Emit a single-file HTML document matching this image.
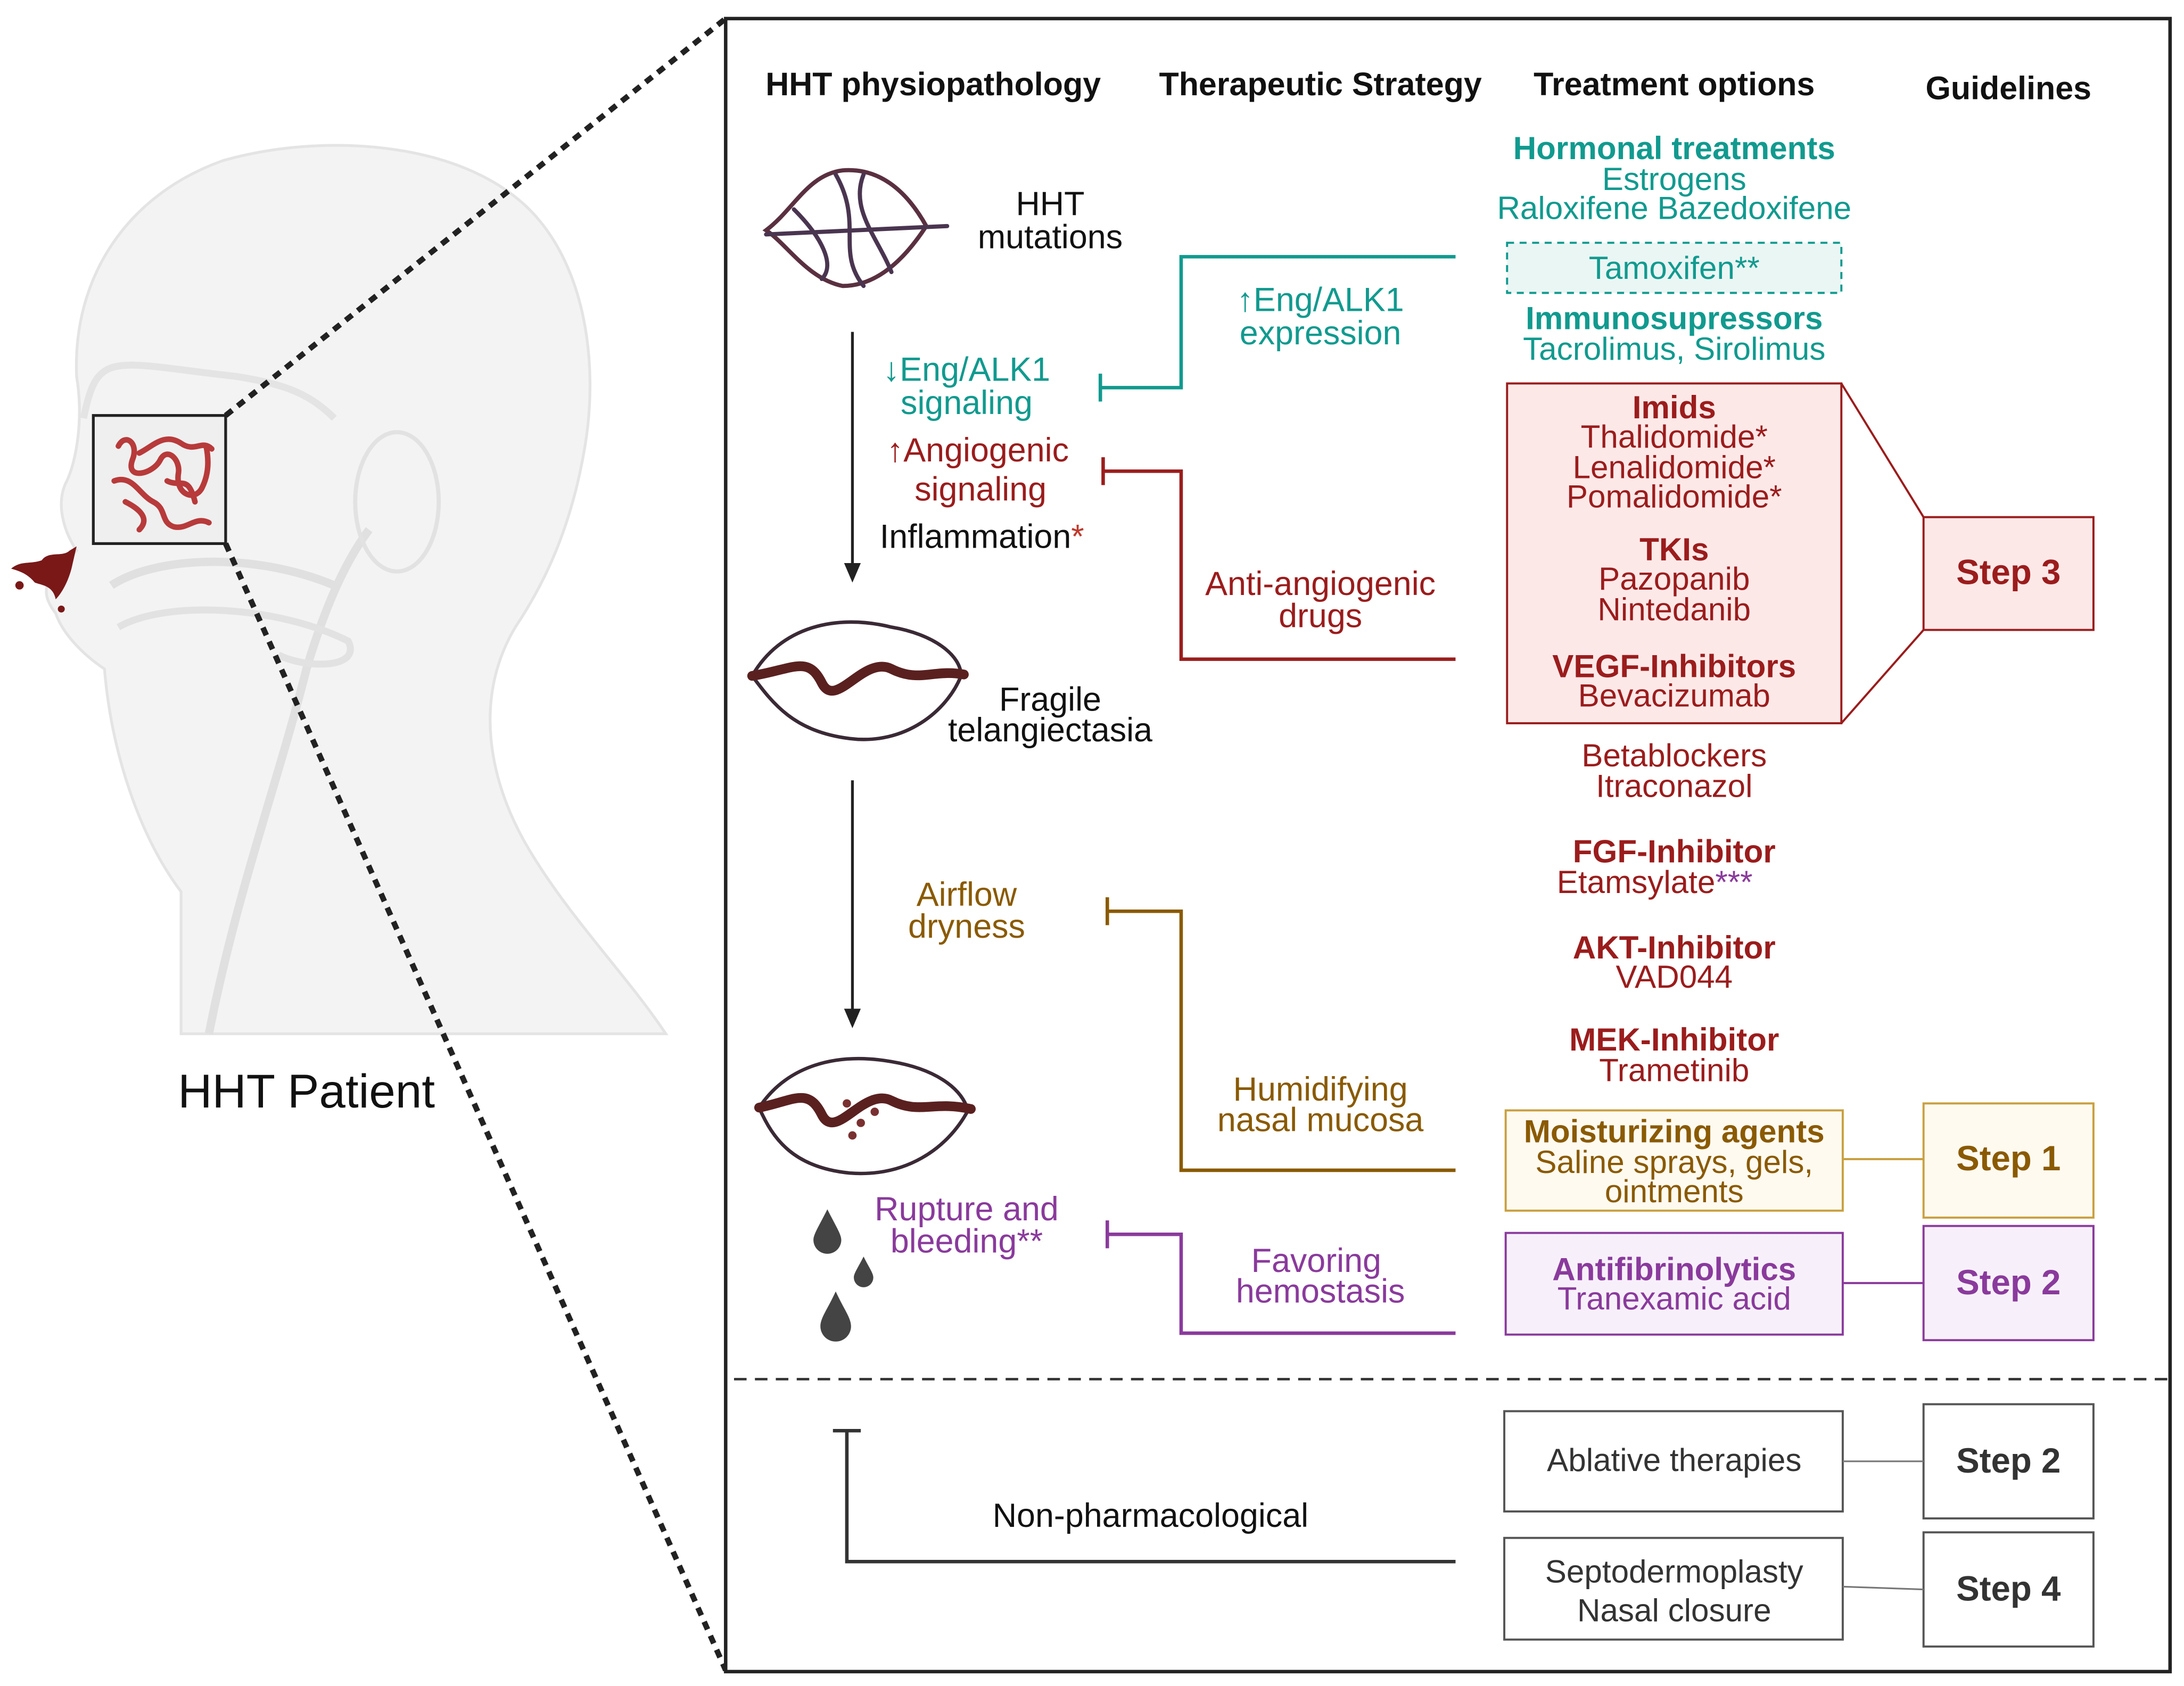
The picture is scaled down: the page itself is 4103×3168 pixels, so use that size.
<!DOCTYPE html>
<html><head><meta charset="utf-8"><style>
html,body{margin:0;padding:0;background:#fff}
svg{display:block}
text{font-family:"Liberation Sans",Arial,sans-serif}
</style></head><body>
<svg width="4103" height="3168" viewBox="0 0 1568 1210" xmlns="http://www.w3.org/2000/svg">
<rect width="1568" height="1210" fill="#fff"/>
<path d="M130,742 L130,640 C100,600 80,540 75,480 C60,470 45,455 40,440 C32,430 30,420 40,410 L55,395 C45,380 40,360 48,345 C55,330 60,300 55,270 C52,200 90,140 160,115 C230,95 330,100 380,150 C420,190 430,260 420,320 C410,380 390,420 370,450 C340,500 350,560 380,610 C410,660 450,700 478,742 Z" fill="#f3f3f3" stroke="#e4e4e4" stroke-width="2"/>
<path d="M150,742 C170,640 200,560 220,480 C235,430 250,400 265,380" fill="none" stroke="#e0e0e0" stroke-width="6"/>
<path d="M80,420 C110,400 180,395 240,420" fill="none" stroke="#e0e0e0" stroke-width="6"/>
<path d="M85,450 C120,430 200,435 250,460 C260,480 220,480 200,470" fill="none" stroke="#e2e2e2" stroke-width="5"/>
<ellipse cx="285" cy="360" rx="30" ry="50" fill="none" stroke="#e2e2e2" stroke-width="3"/>
<path d="M60,300 C70,250 80,260 170,270 C200,275 220,280 240,300" fill="none" stroke="#e4e4e4" stroke-width="5"/>
<rect x="67" y="298" width="95" height="92" fill="#ececec" fill-opacity="0.6" stroke="#222" stroke-width="2"/>
<g fill="none" stroke="#b83a3a" stroke-width="4" stroke-linecap="round">
<path d="M85,320 C90,310 100,318 95,330 C90,345 110,340 115,330 C120,320 130,330 128,340 C126,355 140,360 145,350 C150,340 150,330 148,320"/>
<path d="M82,345 C95,340 100,355 110,360 C120,365 115,375 125,378 C135,380 140,370 150,375"/>
<path d="M100,325 C110,320 118,310 130,318 C140,325 145,315 152,322"/>
<path d="M90,360 C100,365 108,372 100,380"/>
<path d="M120,345 C130,350 135,340 140,360"/>
</g>
<path d="M30,402 C35,395 45,400 50,395 L55,392 L52,405 C50,415 45,425 40,430 C38,420 30,420 25,418 C20,412 15,410 8,408 C15,402 22,405 30,402 Z" fill="#7a1818"/>
<circle cx="14" cy="420" r="3" fill="#7a1818"/><circle cx="44" cy="437" r="2.5" fill="#7a1818"/>
<line x1="162" y1="298" x2="521" y2="13" stroke="#222" stroke-width="4" stroke-dasharray="6,5"/>
<line x1="162" y1="390" x2="521" y2="1199" stroke="#222" stroke-width="4" stroke-dasharray="6,5"/>
<text x="220" y="795" font-size="34" text-anchor="middle" fill="#111">HHT Patient</text>
<rect x="521" y="13" width="1037" height="1187" fill="#fff" stroke="#222" stroke-width="2.5"/>
<g font-weight="bold" font-size="23.3" fill="#111" text-anchor="middle">
<text x="670" y="68">HHT physiopathology</text>
<text x="948" y="68">Therapeutic Strategy</text>
<text x="1202" y="68">Treatment options</text>
<text x="1442" y="71">Guidelines</text>
</g>
<g fill="none" stroke-width="3" stroke-linecap="round">
<path d="M550,165 C570,150 580,125 605,122 C630,120 650,135 665,162 C650,185 630,205 605,205 C580,200 565,175 550,165 Z" stroke="#5a3040"/>
<path d="M550,168 L680,162 M570,150 C590,170 600,190 590,200 M620,125 C610,150 630,170 640,195 M600,125 C620,160 600,180 620,205" stroke="#4a3550"/>
<path d="M540,485 C560,450 600,440 640,450 C670,455 690,470 690,485 C680,510 650,535 610,530 C570,525 555,505 540,485 Z" stroke="#3a2a35" stroke-width="2.5"/>
<path d="M540,485 C570,480 580,470 590,490 C600,510 620,470 640,480 C660,490 670,480 692,484" stroke="#5a2020" stroke-width="7"/>
<path d="M545,795 C565,765 600,755 640,762 C670,767 690,780 695,797 C680,825 650,845 610,842 C570,838 555,818 545,795 Z" stroke="#3a2a35" stroke-width="2.5"/>
<path d="M545,795 C570,790 580,780 590,800 C600,820 620,780 640,790 C660,800 670,790 697,796" stroke="#5a2020" stroke-width="7"/>
</g>
<g fill="#7a3030"><circle cx="608" cy="792" r="3"/><circle cx="618" cy="806" r="3"/><circle cx="628" cy="798" r="3"/><circle cx="612" cy="815" r="3"/></g>
<text x="754" y="154" font-size="24" text-anchor="middle" fill="#111">HHT</text>
<text x="754" y="178" font-size="24" text-anchor="middle" fill="#111">mutations</text>
<text x="754" y="510" font-size="24" text-anchor="middle" fill="#111">Fragile</text>
<text x="754" y="532" font-size="24" text-anchor="middle" fill="#111">telangiectasia</text>
<line x1="612" y1="238" x2="612" y2="406" stroke="#222" stroke-width="2"/>
<path d="M606,404 L612,418 L618,404 Z" fill="#222"/>
<line x1="612" y1="560" x2="612" y2="726" stroke="#222" stroke-width="2"/>
<path d="M606,724 L612,738 L618,724 Z" fill="#222"/>
<g font-size="24" text-anchor="middle">
<text x="694" y="273" fill="#119a8f">↓Eng/ALK1</text>
<text x="694" y="297" fill="#119a8f">signaling</text>
<text x="702" y="331" fill="#9b1c1c">↑Angiogenic</text>
<text x="704" y="359" fill="#9b1c1c">signaling</text>
<text x="705" y="393" fill="#111">Inflammation<tspan fill="#c0392b">*</tspan></text>
<text x="694" y="650" fill="#8a5a00">Airflow</text>
<text x="694" y="673" fill="#8a5a00">dryness</text>
<text x="694" y="876" fill="#8a3a9c">Rupture and</text>
<text x="694" y="899" fill="#8a3a9c">bleeding**</text>
<text x="948" y="223" fill="#119a8f">↑Eng/ALK1</text>
<text x="948" y="247" fill="#119a8f">expression</text>
<text x="948" y="427" fill="#9b1c1c">Anti-angiogenic</text>
<text x="948" y="450" fill="#9b1c1c">drugs</text>
<text x="948" y="790" fill="#8a5a00">Humidifying</text>
<text x="948" y="812" fill="#8a5a00">nasal mucosa</text>
<text x="945" y="913" fill="#8a3a9c">Favoring</text>
<text x="948" y="935" fill="#8a3a9c">hemostasis</text>
<text x="826" y="1096" fill="#111">Non-pharmacological</text>
</g>
<g fill="#444">
<path d="M594,868 C600,880 604,886 604,890 A10,10 0 0 1 584,890 C584,886 588,880 594,868 Z"/>
<path d="M620,902 C624,910 627,914 627,917 A7,7 0 0 1 613,917 C613,914 616,910 620,902 Z"/>
<path d="M600,927 C606,940 611,946 611,952 A11,11 0 0 1 589,952 C589,946 594,940 600,927 Z"/>
</g>
<g fill="none" stroke-width="2.5">
<path d="M1045,184 H848 V278 H790 M790,268 V288" stroke="#119a8f"/>
<path d="M1045,473 H848 V338 H792 M792,328 V348" stroke="#9b1c1c"/>
<path d="M1045,840 H848 V654 H795 M795,644 V664" stroke="#8a5a00"/>
<path d="M1045,957 H848 V886 H795 M795,876 V896" stroke="#8a3a9c"/>
<path d="M1045,1121 H608 V1027 M598,1027 H618" stroke="#333"/>
</g>
<line x1="527" y1="990" x2="1558" y2="990" stroke="#333" stroke-width="1.8" stroke-dasharray="9,6"/>
<rect x="1082" y="174" width="240" height="36" fill="#eaf6f4" stroke="#119a8f" stroke-width="1.5" stroke-dasharray="5,4"/>
<rect x="1082" y="275" width="240" height="244" fill="#fde8e8" stroke="#9b1c1c" stroke-width="1.5"/>
<rect x="1381" y="371" width="122" height="81" fill="#fde8e8" stroke="#9b1c1c" stroke-width="1.5"/>
<path d="M1322,275 L1381,371 M1322,519 L1381,452" stroke="#9b1c1c" stroke-width="1.5"/>
<rect x="1081" y="797" width="242" height="72" fill="#fffaf0" stroke="#c9a040" stroke-width="1.5"/>
<rect x="1381" y="792" width="122" height="82" fill="#fffaf0" stroke="#c9a040" stroke-width="1.5"/>
<line x1="1323" y1="832" x2="1381" y2="832" stroke="#c9a040" stroke-width="1.5"/>
<rect x="1081" y="885" width="242" height="73" fill="#f7f0fa" stroke="#8a3a9c" stroke-width="1.5"/>
<rect x="1381" y="880" width="122" height="82" fill="#f7f0fa" stroke="#8a3a9c" stroke-width="1.5"/>
<line x1="1323" y1="921" x2="1381" y2="921" stroke="#8a3a9c" stroke-width="1.5"/>
<rect x="1080" y="1013" width="243" height="72" fill="#fff" stroke="#555" stroke-width="1.5"/>
<rect x="1381" y="1008" width="122" height="82" fill="#fff" stroke="#555" stroke-width="1.5"/>
<line x1="1323" y1="1049" x2="1381" y2="1049" stroke="#777" stroke-width="1.2"/>
<rect x="1080" y="1104" width="243" height="73" fill="#fff" stroke="#555" stroke-width="1.5"/>
<rect x="1381" y="1100" width="122" height="82" fill="#fff" stroke="#555" stroke-width="1.5"/>
<line x1="1323" y1="1139" x2="1381" y2="1141" stroke="#777" stroke-width="1.2"/>
<g font-size="23" text-anchor="middle">
<g fill="#119a8f">
<text x="1202" y="114" font-weight="bold">Hormonal treatments</text>
<text x="1202" y="136">Estrogens</text>
<text x="1202" y="157">Raloxifene Bazedoxifene</text>
<text x="1202" y="200">Tamoxifen**</text>
<text x="1202" y="236" font-weight="bold">Immunosupressors</text>
<text x="1202" y="258">Tacrolimus, Sirolimus</text>
</g>
<g fill="#9b1c1c">
<text x="1202" y="300" font-weight="bold">Imids</text>
<text x="1202" y="321">Thalidomide*</text>
<text x="1202" y="343">Lenalidomide*</text>
<text x="1202" y="364">Pomalidomide*</text>
<text x="1202" y="402" font-weight="bold">TKIs</text>
<text x="1202" y="423">Pazopanib</text>
<text x="1202" y="445">Nintedanib</text>
<text x="1202" y="486" font-weight="bold">VEGF-Inhibitors</text>
<text x="1202" y="507">Bevacizumab</text>
<text x="1202" y="550">Betablockers</text>
<text x="1202" y="572">Itraconazol</text>
<text x="1202" y="619" font-weight="bold">FGF-Inhibitor</text>
<text x="1188" y="641">Etamsylate<tspan fill="#8a3a9c">***</tspan></text>
<text x="1202" y="688" font-weight="bold">AKT-Inhibitor</text>
<text x="1202" y="709">VAD044</text>
<text x="1202" y="754" font-weight="bold">MEK-Inhibitor</text>
<text x="1202" y="776">Trametinib</text>
</g>
<g fill="#8a5a00">
<text x="1202" y="820" font-weight="bold">Moisturizing agents</text>
<text x="1202" y="842">Saline sprays, gels,</text>
<text x="1202" y="863">ointments</text>
</g>
<g fill="#8a3a9c">
<text x="1202" y="919" font-weight="bold">Antifibrinolytics</text>
<text x="1202" y="940">Tranexamic acid</text>
</g>
<g fill="#333">
<text x="1202" y="1056">Ablative therapies</text>
<text x="1202" y="1136">Septodermoplasty</text>
<text x="1202" y="1164">Nasal closure</text>
</g>
</g>
<g font-size="25" font-weight="bold" text-anchor="middle">
<text x="1442" y="419" fill="#9b1c1c">Step 3</text>
<text x="1442" y="840" fill="#8a5a00">Step 1</text>
<text x="1442" y="929" fill="#8a3a9c">Step 2</text>
<text x="1442" y="1057" fill="#333">Step 2</text>
<text x="1442" y="1149" fill="#333">Step 4</text>
</g>
</svg>
</body></html>
